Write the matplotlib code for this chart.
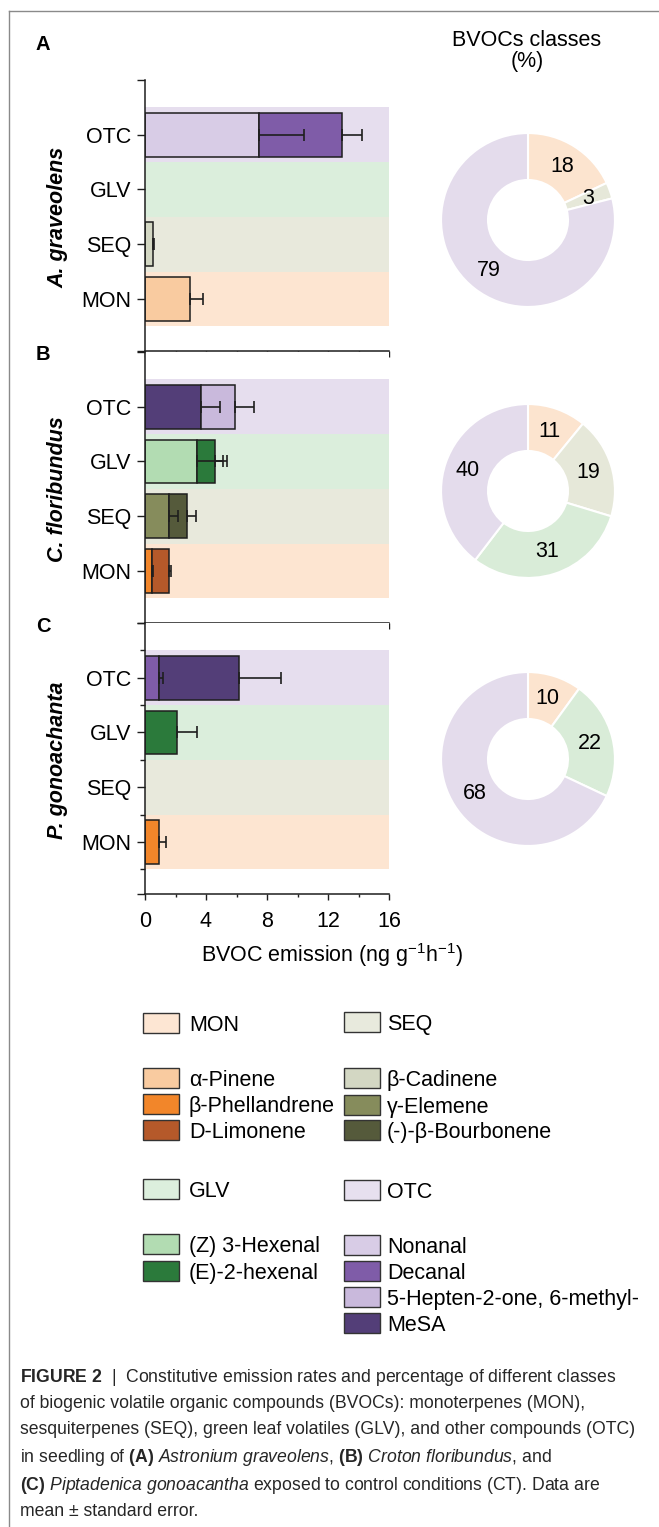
import matplotlib
matplotlib.use("Agg")
import matplotlib.pyplot as plt
from matplotlib.patches import Rectangle
from matplotlib.lines import Line2D

plt.rcParams['font.family'] = ['Liberation Sans', 'DejaVu Sans']
plt.rcParams['mathtext.fontset'] = 'custom'
plt.rcParams['mathtext.rm'] = 'Liberation Sans'
plt.rcParams['mathtext.it'] = 'Liberation Sans:italic'
plt.rcParams['mathtext.bf'] = 'Liberation Sans:bold'

W, H = 659, 1527
FS = 15.5
INK = '#1e1e1e'

# classes, bottom to top
classes = ['MON', 'SEQ', 'GLV', 'OTC']
band_colors = ['#fde5d1', '#e8e9dc', '#dbeedc', '#e6deee']
pie_colors = ['#fce4cf', '#e6e8d9', '#d9ecd8', '#e4dcec']

compounds = ['α-Pinene', 'β-Phellandrene', 'D-Limonene',
             'β-Cadinene', 'γ-Elemene', '(-)-β-Bourbonene',
             '(Z) 3-Hexenal', '(E)-2-hexenal',
             'Nonanal', 'Decanal', '5-Hepten-2-one, 6-methyl-', 'MeSA']
compound_colors = ['#f9cba0', '#f2862a', '#b5592a',
                   '#d3d7c3', '#868c5c', '#555a3b',
                   '#b2dcb2', '#2b7a3b',
                   '#d8cce6', '#7f5ca8', '#c9b9dc', '#533e78']

species = ['A. graveolens', 'C. floribundus', 'P. gonoachanta']
letters = ['A', 'B', 'C']

# stacked segments (class, compound, mean, standard error)
a_class = ['MON', 'SEQ', 'OTC', 'OTC']
a_comp = ['α-Pinene', 'β-Cadinene', 'Nonanal', 'Decanal']
a_mean = [2.95, 0.5, 7.5, 5.45]
a_err = [0.85, 0.08, 2.9, 1.25]

b_class = ['MON', 'MON', 'SEQ', 'SEQ', 'GLV', 'GLV', 'OTC', 'OTC']
b_comp = ['β-Phellandrene', 'D-Limonene', 'γ-Elemene', '(-)-β-Bourbonene',
          '(Z) 3-Hexenal', '(E)-2-hexenal', 'MeSA', '5-Hepten-2-one, 6-methyl-']
b_mean = [0.44, 1.16, 1.57, 1.18, 3.43, 1.14, 3.65, 2.23]
b_err = [0.06, 0.08, 0.57, 0.62, 1.66, 0.81, 1.3, 1.3]

c_class = ['MON', 'GLV', 'OTC', 'OTC']
c_comp = ['β-Phellandrene', '(E)-2-hexenal', 'Decanal', 'MeSA']
c_mean = [0.94, 2.08, 0.92, 5.24]
c_err = [0.42, 1.31, 0.23, 2.74]

# class percentages for the donuts (MON, SEQ, GLV, OTC)
a_pct = [18, 3, 0, 79]
b_pct = [11, 19, 31, 40]
c_pct = [10, 0, 22, 68]

xticks = [0, 4, 8, 12, 16]

fig = plt.figure(figsize=(W / 100, H / 100), dpi=100)


def fx(px):
    return px / W


def fy(py):
    return 1 - py / H


panels = [(a_class, a_comp, a_mean, a_err, a_pct),
          (b_class, b_comp, b_mean, b_err, b_pct),
          (c_class, c_comp, c_mean, c_err, c_pct)]
ax_top = [80, 352, 623]
ax_h = 271
pie_cy = [220, 491, 759]
ylo, yhi = -0.95, 4.0

for i, (cl, cp, mn, er, pct) in enumerate(panels):
    ax = fig.add_axes([fx(145), fy(ax_top[i] + ax_h), fx(389) - fx(145), ax_h / H])
    for k, c in enumerate(classes):
        ax.axhspan(k - 0.5, k + 0.5, color=band_colors[k], lw=0, zorder=0)
    left = {c: 0.0 for c in classes}
    for c, name, m, e in zip(cl, cp, mn, er):
        y = classes.index(c)
        col = compound_colors[compounds.index(name)]
        ax.barh(y, m, left=left[c], height=0.8, color=col, edgecolor=INK,
                linewidth=1.1, zorder=2)
        end = left[c] + m
        ax.errorbar(end, y, xerr=[[0], [e]], fmt='none', ecolor=INK,
                    elinewidth=1.2, capsize=4.3, capthick=1.2, zorder=3)
        left[c] = end
    ax.set_xlim(0, 16)
    ax.set_ylim(ylo, yhi)
    ax.set_yticks([ylo, 0, 1, 2, 3, yhi], [''] + classes + [''])
    ax.set_xticks(xticks)
    ax.set_xticks([2, 6, 10, 14], minor=True)
    if i == 2:
        ax.set_yticks([-0.5, 0.5, 1.5, 2.5, 3.5], minor=True)
        ax.tick_params(axis='y', which='minor', length=3.5, width=1.0, color=INK)
    for s in ['top', 'right']:
        ax.spines[s].set_visible(False)
    for s in ['left', 'bottom']:
        ax.spines[s].set_color(INK)
        ax.spines[s].set_linewidth(1.1)
    ax.tick_params(axis='y', which='major', length=6, width=1.0, color=INK,
                   labelsize=FS, pad=4)
    ax.tick_params(axis='x', which='major', length=4, width=1.0, color=INK,
                   labelsize=FS, pad=8)
    ax.tick_params(axis='x', which='minor', length=2.5, width=1.0, color=INK)
    if i < 2:
        ax.tick_params(axis='x', labelbottom=False)

    # species name and panel letter
    fig.text(fx(58), fy(ax_top[i] + 137), species[i], rotation=90,
             fontsize=FS, fontweight='bold', fontstyle='italic',
             ha='center', va='center')
    fig.text(fx(43), fy([45, 354, 627][i]), letters[i], fontsize=14.5,
             fontweight='bold', ha='center', va='center')

    # donut of class percentages
    pa = fig.add_axes([fx(528 - 90), fy(pie_cy[i] + 90), 180 / W, 180 / H])
    vals = [v for v in pct if v > 0]
    cols = [pie_colors[k] for k, v in enumerate(pct) if v > 0]
    pa.pie(vals, colors=cols, startangle=90, counterclock=False, radius=1,
           autopct=lambda p: '%d' % round(p), pctdistance=0.73,
           textprops=dict(fontsize=FS, color='black'),
           wedgeprops=dict(width=0.54, edgecolor='white', linewidth=1.5))
    pa.set_xlim(-1.035, 1.035)
    pa.set_ylim(-1.035, 1.035)
    pa.set_aspect('equal')
    pa.axis('off')

fig.text(fx(201), fy(955), r'BVOC emission (ng g$^{-1}$h$^{-1}$)', fontsize=FS,
         ha='left', va='center')
fig.text(fx(527), fy(40), 'BVOCs classes', fontsize=FS, ha='center', va='center')
fig.text(fx(527), fy(61), '(%)', fontsize=FS, ha='center', va='center')

# legend
leg_left = ['MON', 'α-Pinene', 'β-Phellandrene', 'D-Limonene', 'GLV',
            '(Z) 3-Hexenal', '(E)-2-hexenal']
leg_left_y = [1023, 1078, 1104, 1130, 1189, 1244, 1271]
leg_right = ['SEQ', 'β-Cadinene', 'γ-Elemene', '(-)-β-Bourbonene', 'OTC',
             'Nonanal', 'Decanal', '5-Hepten-2-one, 6-methyl-', 'MeSA']
leg_right_y = [1022, 1078, 1105, 1130, 1190, 1245, 1271, 1297, 1323]
legend_class_colors = {'MON': '#fde6d3', 'SEQ': '#e8eadd', 'GLV': '#dcefdd', 'OTC': '#e7e0ef'}


def legend_color(name):
    if name in legend_class_colors:
        return legend_class_colors[name]
    return compound_colors[compounds.index(name)]


for names, ys, bx, tx in [(leg_left, leg_left_y, 143, 189), (leg_right, leg_right_y, 344, 387)]:
    for name, y in zip(names, ys):
        fig.add_artist(Rectangle((fx(bx), fy(y + 10)), 36 / W, 20 / H,
                                 transform=fig.transFigure, facecolor=legend_color(name),
                                 edgecolor='#333333', linewidth=1.0))
        fig.text(fx(tx), fy(y), name, fontsize=FS, ha='left', va='center_baseline')

# caption
caption = [r'$\mathbf{FIGURE\ 2}$  |  Constitutive emission rates and percentage of different classes',
           'of biogenic volatile organic compounds (BVOCs): monoterpenes (MON),',
           'sesquiterpenes (SEQ), green leaf volatiles (GLV), and other compounds (OTC)',
           r'in seedling of $\mathbf{(A)}$ $\mathit{Astronium\ graveolens}$, $\mathbf{(B)}$ $\mathit{Croton\ floribundus}$, and',
           r'$\mathbf{(C)}$ $\mathit{Piptadenica\ gonoacantha}$ exposed to control conditions (CT). Data are',
           'mean ± standard error.']
for k, line in enumerate(caption):
    fig.text(fx(20), fy(1374 + 27 * k), line, fontsize=12.7, color='#262626',
             ha='left', va='center_baseline')

# figure frame
fig.add_artist(Line2D([fx(9), 1], [fy(11), fy(11)], transform=fig.transFigure,
                      color='#8a8a8a', lw=1.0))
fig.add_artist(Line2D([fx(9), fx(9)], [fy(11), 0], transform=fig.transFigure,
                      color='#8a8a8a', lw=1.0))

fig.savefig('out.png', dpi=100)
